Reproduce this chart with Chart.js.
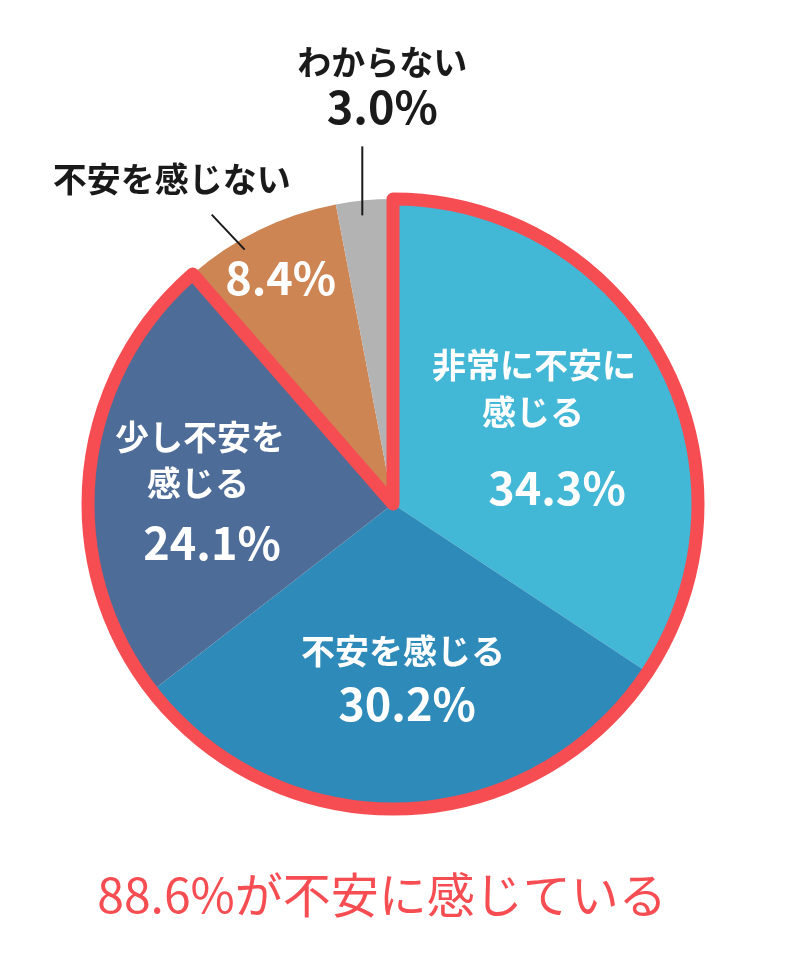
<!DOCTYPE html>
<html lang="ja">
<head>
<meta charset="utf-8">
<title>不安を感じる割合</title>
<script src="https://cdn.jsdelivr.net/npm/chart.js@4"></script>
<style>
  html, body { margin: 0; padding: 0; background: #fff; }
  #wrap { width: 800px; height: 959px; }
</style>
</head>
<body>
<div id="wrap"><canvas id="anxiety" width="800" height="959"></canvas></div>
<script>
    // data
    const categories = ['非常に不安に感じる', '不安を感じる', '少し不安を感じる', '不安を感じない', 'わからない'];
    const shares = [34.3, 30.2, 24.1, 8.4, 3.0];
    const labelLines = [['非常に不安に', '感じる'], ['不安を感じる'], ['少し不安を', '感じる'], ['不安を感じない'], ['わからない']];
    const highlightCount = 3; // first three slices are outlined
    const captionSuffix = 'が不安に感じている';

    const sliceColors = ['#42b7d6', '#2e8ab8', '#4e6c98', '#cd8553', '#b3b3b3'];
    const red = '#f64d52';
    const FONT = "'Noto Sans CJK JP', 'Noto Sans', sans-serif";

    // where each slice's text sits, relative to a point on the slice's mid angle (k * radius)
    const layout = [
        { k: 0.56, color: '#fff', lines: [[-9.5, -58], [-10.5, -11]], pct: [13.5, 65], pctColor: '#fff' },
        { k: 0.56, color: '#fff', lines: [[3.6, -23]], pct: [7.6, 30], pctColor: '#fff' },
        { k: 0.56, color: '#fff', lines: [[-23, -50], [-25, -4]], pct: [-11, 56], pctColor: '#fff' },
        { k: 1, color: '#1a1a1a', lines: [[-88, -50]], pct: [21, 49], pctColor: '#fff', leader: [[-15, 20], [-48, -15]] },
        { k: 1, color: '#1a1a1a', lines: [[18, -138]], pct: [18, -93], pctColor: '#1a1a1a', leader: [[-2, 15], [-2, -54]] }
    ];

    function drawText(ctx, text, x, y, size, weight, color) {
        ctx.font = weight + ' ' + size + 'px ' + FONT;
        ctx.fillStyle = color;
        ctx.textAlign = 'center';
        ctx.textBaseline = 'alphabetic';
        ctx.fillText(text, x, y + size * 0.37);
    }

    const sliceLabels = {
        id: 'sliceLabels',
        afterDatasetsDraw(chart) {
            const ctx = chart.ctx;
            const arcs = chart.getDatasetMeta(0).data;
            const first = arcs[0], last = arcs[highlightCount - 1];
            const cx = first.x, cy = first.y, R = first.outerRadius;

            ctx.save();
            // red outline round the highlighted slices
            ctx.beginPath();
            ctx.moveTo(cx, cy);
            ctx.arc(cx, cy, R, first.startAngle, last.endAngle);
            ctx.closePath();
            ctx.lineWidth = 13;
            ctx.lineJoin = 'round';
            ctx.strokeStyle = red;
            ctx.stroke();

            arcs.forEach((arc, i) => {
                const L = layout[i];
                const mid = (arc.startAngle + arc.endAngle) / 2;
                const ax = cx + Math.cos(mid) * R * L.k;
                const ay = cy + Math.sin(mid) * R * L.k;

                if (L.leader) {
                    ctx.beginPath();
                    ctx.moveTo(ax + L.leader[0][0], ay + L.leader[0][1]);
                    ctx.lineTo(ax + L.leader[1][0], ay + L.leader[1][1]);
                    ctx.lineWidth = 2;
                    ctx.strokeStyle = '#1a1a1a';
                    ctx.stroke();
                }
                labelLines[i].forEach((t, j) => {
                    drawText(ctx, t, ax + L.lines[j][0], ay + L.lines[j][1], 34, 700, L.color);
                });
                drawText(ctx, shares[i].toFixed(1) + '%', ax + L.pct[0], ay + L.pct[1], 45, 700, L.pctColor);
            });

            // caption under the pie
            const total = shares.slice(0, highlightCount).reduce((a, b) => a + b, 0);
            drawText(ctx, total.toFixed(1) + '%' + captionSuffix, 382, 895, 48, 400, red);
            ctx.restore();
        }
    };

    const ctx = document.getElementById('anxiety').getContext('2d');
    const anxietyChart = new Chart(ctx, {
        type: 'pie',
        data: {
            labels: categories,
            datasets: [{
                data: shares,
                backgroundColor: sliceColors,
                borderWidth: 0,
                hoverOffset: 0
            }]
        },
        options: {
            responsive: false,
            animation: false,
            layout: {
                padding: { left: 88, right: 102, top: 199, bottom: 150 }
            },
            plugins: {
                legend: { display: false },
                tooltip: { enabled: false }
            }
        },
        plugins: [sliceLabels]
    });
</script>
</body>
</html>
